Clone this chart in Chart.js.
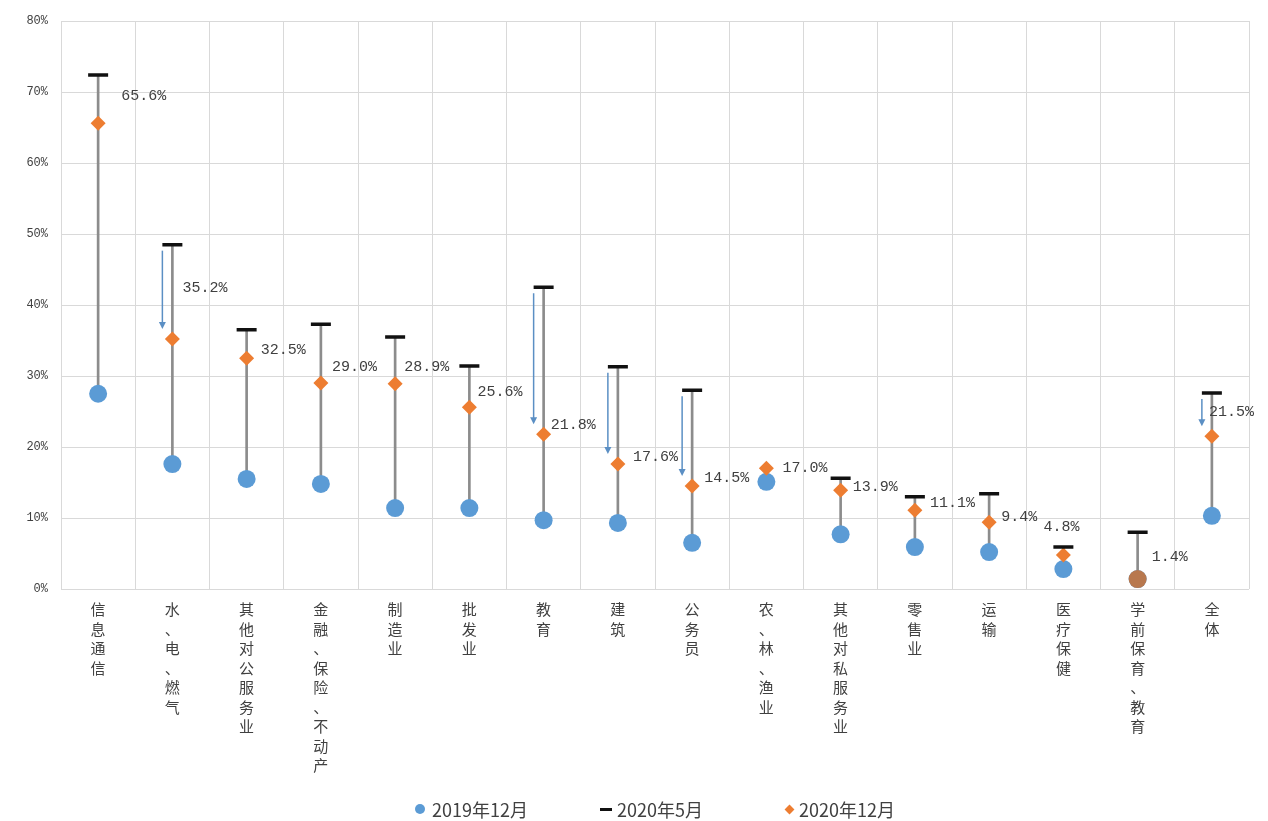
<!DOCTYPE html>
<html>
<head>
<meta charset="utf-8">
<script src="https://cdn.jsdelivr.net/npm/chart.js@4/dist/chart.umd.min.js"></script>
<style>
  html, body { margin: 0; padding: 0; background: #fff; }
  #wrap { position: relative; width: 1268px; height: 821px; }
  #c { position: absolute; left: 0; top: 0; }
  #legend { position: absolute; left: 0; top: 797px; width: 1268px; height: 24px;
            font-family: "Noto Sans CJK SC", "Noto Sans", sans-serif; font-size: 18px; color: #404040; }
  .item { position: absolute; top: 0; display: flex; align-items: center; white-space: nowrap; line-height: 24px; }
  .mk { display: inline-block; }
  .mk.circle { width: 10px; height: 10px; border-radius: 50%; background: #5B9BD5; margin-right: 7px; }
  .mk.dash { width: 12px; height: 3px; background: #111; margin-right: 5px; }
  .mk.diamond { width: 7px; height: 7px; background: #ED7D31; transform: rotate(45deg); margin-left: 1px; margin-right: 6px; }
</style>
</head>
<body>
<div id="wrap">
  <canvas id="c" width="1268" height="821"></canvas>
  <div id="legend">
    <div class="item" style="left:415px"><span class="mk circle"></span><span>2019年12月</span></div>
    <div class="item" style="left:600px"><span class="mk dash"></span><span>2020年5月</span></div>
    <div class="item" style="left:785px"><span class="mk diamond"></span><span>2020年12月</span></div>
  </div>
</div>
<script>
// ---------- data ----------
const categories = ['信息通信', '水、电、燃气', '其他对公服务业', '金融、保险、不动产', '制造业', '批发业', '教育', '建筑', '公务员', '农、林、渔业', '其他对私服务业', '零售业', '运输', '医疗保健', '学前保育、教育', '全体'];
const dec2019 = [27.5, 17.6, 15.5, 14.8, 11.4, 11.4, 9.7, 9.3, 6.5, 15.1, 7.7, 5.9, 5.2, 2.8, 1.4, 10.3];
const may2020 = [72.4, 48.5, 36.5, 37.3, 35.5, 31.4, 42.5, 31.3, 28.0, null, 15.6, 13.0, 13.4, 5.9, 8.0, 27.6];
const dec2020 = [65.6, 35.2, 32.5, 29.0, 28.9, 25.6, 21.8, 17.6, 14.5, 17.0, 13.9, 11.1, 9.4, 4.8, 1.4, 21.5];
const arrowIdx = [1, 6, 7, 8, 15];           // categories with a May -> Dec arrow
const yTicks = [0, 10, 20, 30, 40, 50, 60, 70, 80];

// ---------- styling (kept apart from data) ----------
const labelDx = [23, 10, 14, 11, 9, 8, 7, 15, 12, 16, 12, 15, 12, -20, 14, -3];
const labelDy = [-27, -51, -8, -16, -17, -15, -9, -7, -8, 0, -3, -7, -5, -28, -22, -24];
const BLUE = '#5B9BD5', ORANGE = '#ED7D31', GREY = '#8C8C8C', ARROW = '#5B8FC4';

const connectors = dec2019.map((v, i) => {
  const hi = Math.max(may2020[i] == null ? -Infinity : may2020[i], dec2020[i]);
  return [v, hi];
});
const diamondStyle = dec2020.map((v, i) => i === 14 ? 'circle' : 'rectRot');
const diamondColor = dec2020.map((v, i) => i === 14 ? '#B8784E' : ORANGE);
const diamondRadius = dec2020.map((v, i) => i === 14 ? 9 : 7.5);

const arrowPlugin = {
  id: 'arrows',
  beforeDatasetsDraw(chart) {
    const { ctx, scales: { x, y } } = chart;
    ctx.save();
    ctx.strokeStyle = ARROW; ctx.fillStyle = ARROW; ctx.lineWidth = 1.5;
    arrowIdx.forEach(i => {
      const px = x.getPixelForValue(i) - 10;
      const y0 = y.getPixelForValue(may2020[i]) + 6;
      const y1 = y.getPixelForValue(dec2020[i]) - 10;
      ctx.beginPath(); ctx.moveTo(px, y0); ctx.lineTo(px, y1 - 6); ctx.stroke();
      ctx.beginPath(); ctx.moveTo(px - 3.5, y1 - 7); ctx.lineTo(px + 3.5, y1 - 7); ctx.lineTo(px, y1); ctx.closePath(); ctx.fill();
    });
    ctx.restore();
  }
};

const labelPlugin = {
  id: 'valueLabels',
  afterDatasetsDraw(chart) {
    const { ctx, scales: { x, y } } = chart;
    ctx.save();
    ctx.font = '15px "Liberation Mono", "DejaVu Sans Mono", monospace';
    ctx.fillStyle = '#404040';
    ctx.textAlign = 'left'; ctx.textBaseline = 'middle';
    dec2020.forEach((v, i) => {
      const px = x.getPixelForValue(i) + labelDx[i];
      const py = y.getPixelForValue(v) + labelDy[i];
      ctx.fillText(v.toFixed(1) + '%', px, py);
    });
    ctx.restore();
  }
};

new Chart(document.getElementById('c'), {
  type: 'bar',
  data: {
    labels: categories.map(s => Array.from(s)),
    datasets: [
      { type: 'line', label: '2020年5月', data: may2020, showLine: false, pointStyle: 'line',
        pointRadius: 10, pointBorderWidth: 3.5, pointBorderColor: '#111', pointBackgroundColor: '#111', order: 1 },
      { type: 'line', label: '2020年12月', data: dec2020, showLine: false, pointStyle: diamondStyle,
        pointRadius: diamondRadius, pointBorderWidth: 0, pointBackgroundColor: diamondColor, pointBorderColor: diamondColor, order: 2 },
      { type: 'line', label: '2019年12月', data: dec2019, showLine: false, pointStyle: 'circle',
        pointRadius: 9, pointBorderWidth: 0, pointBackgroundColor: BLUE, pointBorderColor: BLUE, order: 3 },
      { type: 'bar', label: 'range', data: connectors, backgroundColor: GREY, borderWidth: 0,
        barThickness: 2, order: 10 }
    ]
  },
  options: {
    responsive: false,
    animation: false,
    layout: { padding: { left: 0, right: 19, top: 21, bottom: 0 } },
    plugins: { legend: { display: false }, tooltip: { enabled: false } },
    scales: {
      x: {
        offset: true,
        grid: { display: true, offset: true, color: '#D9D9D9', lineWidth: 1, drawTicks: false },
        border: { display: false },
        ticks: { autoSkip: false, maxRotation: 0, minRotation: 0, padding: 11, color: '#404040',
                 font: { family: '"Noto Sans CJK SC", sans-serif', size: 15, lineHeight: 1.3 } },
        afterFit(s) { s.height = 232; }
      },
      y: {
        min: 0, max: 80,
        afterBuildTicks(s) { s.ticks = yTicks.map(v => ({ value: v })); },
        grid: { color: '#D9D9D9', lineWidth: 1, drawTicks: false },
        border: { display: false },
        ticks: { padding: 13, color: '#404040', callback: v => v + '%',
                 font: { family: '"Liberation Mono", "DejaVu Sans Mono", monospace', size: 12 } },
        afterFit(s) { s.width = 61; }
      }
    }
  },
  plugins: [arrowPlugin, labelPlugin]
});
</script>
</body>
</html>
